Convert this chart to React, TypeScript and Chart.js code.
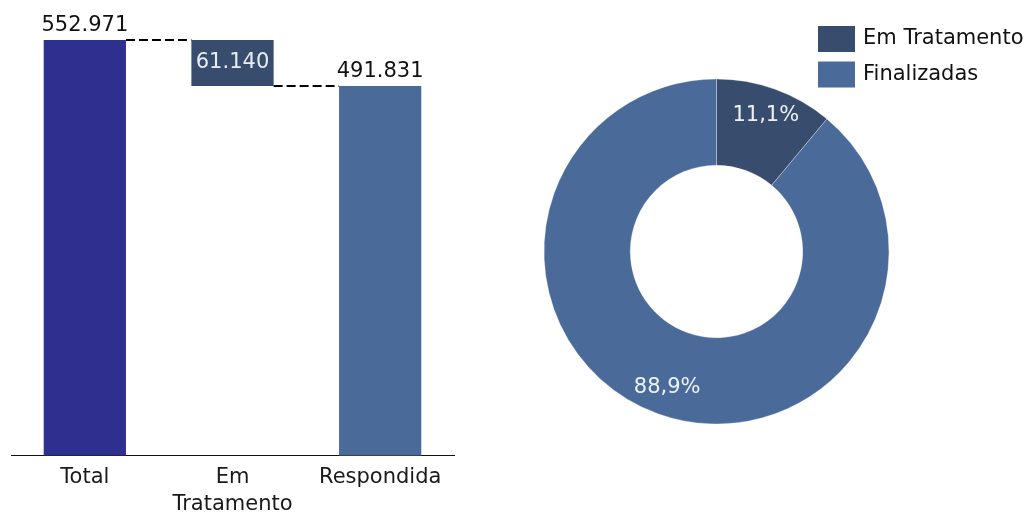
import React, { useEffect, useRef } from 'react';
import { Chart, registerables } from 'chart.js';

Chart.register(...registerables);

const categories = ['Total', 'Em Tratamento', 'Respondida'];
const tickLabels = [['Total'], ['Em', 'Tratamento'], ['Respondida']];
const totalValue = 552971;
const inTreatmentValue = 61140;
const answeredValue = 491831;
const barColors = ['#2f2f8f', '#384d6e', '#4a6a99'];

const donutLabels = ['Em Tratamento', 'Finalizadas'];
const donutValues = [61140, 491831];
const donutColors = ['#384c6d', '#4a6b9a'];

const FONT = "'DejaVu Sans', sans-serif";

const fmtThousands = (v: number) => String(v).replace(/\B(?=(\d{3})+(?!\d))/g, '.');

const waterfallPlugin = {
  id: 'waterfallLabels',
  afterDatasetsDraw(chart: any) {
    const ctx = chart.ctx;
    const meta = chart.getDatasetMeta(0);
    const els = meta.data;
    const values = [totalValue, inTreatmentValue, answeredValue];
    ctx.save();
    ctx.strokeStyle = '#000';
    ctx.lineWidth = 2;
    ctx.setLineDash([9, 4]);
    ctx.beginPath();
    const e0 = els[0], e1 = els[1], e2 = els[2];
    ctx.moveTo(e0.x + e0.width / 2, e0.y);
    ctx.lineTo(e1.x - e1.width / 2, e0.y);
    ctx.moveTo(e1.x + e1.width / 2, e1.base);
    ctx.lineTo(e2.x - e2.width / 2, e1.base);
    ctx.stroke();
    ctx.setLineDash([]);
    ctx.font = `21px ${FONT}`;
    ctx.textAlign = 'center';
    els.forEach((el: any, i: number) => {
      const txt = fmtThousands(values[i]);
      if (i === 1) {
        ctx.fillStyle = '#e8edf5';
        ctx.textBaseline = 'middle';
        ctx.fillText(txt, el.x, (el.y + el.base) / 2);
      } else {
        ctx.fillStyle = '#111';
        ctx.textBaseline = 'alphabetic';
        ctx.fillText(txt, el.x, el.y - 9);
      }
    });
    ctx.restore();
  },
};

const donutPlugin = {
  id: 'donutLabels',
  afterDatasetsDraw(chart: any) {
    const ctx = chart.ctx;
    const meta = chart.getDatasetMeta(0);
    const data = chart.data.datasets[0].data as number[];
    const sum = data.reduce((a, b) => a + b, 0);
    ctx.save();
    ctx.font = `21px ${FONT}`;
    ctx.textAlign = 'center';
    ctx.textBaseline = 'middle';
    ctx.fillStyle = '#eef2f8';
    meta.data.forEach((arc: any, i: number) => {
      const p = arc.getProps(['x', 'y', 'startAngle', 'endAngle', 'innerRadius', 'outerRadius']);
      const mid = (p.startAngle + p.endAngle) / 2;
      const r = p.innerRadius + (p.outerRadius - p.innerRadius) * 0.68;
      const pct = ((data[i] / sum) * 100).toFixed(1).replace('.', ',') + '%';
      ctx.fillText(pct, p.x + Math.cos(mid) * r, p.y + Math.sin(mid) * r);
    });
    const labels = chart.data.labels as string[];
    const colors = chart.data.datasets[0].backgroundColor as string[];
    labels.forEach((lab, i) => {
      const top = 26 + i * 35.5;
      ctx.fillStyle = colors[i];
      ctx.fillRect(348, top, 37, 26);
      ctx.fillStyle = '#111';
      ctx.textAlign = 'left';
      ctx.fillText(lab, 393, top + 13);
    });
    ctx.restore();
  },
};

export default function App() {
  const barRef = useRef<HTMLCanvasElement>(null);
  const donutRef = useRef<HTMLCanvasElement>(null);

  useEffect(() => {
    const floating = [
      [0, totalValue],
      [answeredValue, totalValue],
      [0, answeredValue],
    ];
    const bar = new Chart(barRef.current!, {
      type: 'bar',
      data: {
        labels: tickLabels as any,
        datasets: [
          {
            label: categories.join(','),
            data: floating as any,
            backgroundColor: barColors,
            borderWidth: 0,
            barPercentage: 1,
            categoryPercentage: 0.557,
          },
        ],
      },
      options: {
        responsive: false,
        animation: false,
        layout: { padding: { left: 11, right: 16, top: 40, bottom: 0 } },
        plugins: { legend: { display: false }, tooltip: { enabled: false } },
        scales: {
          x: {
            grid: { display: false, drawTicks: false },
            border: { display: true, color: '#111', width: 1 },
            ticks: {
              color: '#1a1a1a',
              font: { family: FONT, size: 21, lineHeight: 1.29 },
              padding: 8,
              maxRotation: 0,
              autoSkip: false,
            },
          },
          y: { display: false, min: 0, max: totalValue },
        },
      },
      plugins: [waterfallPlugin],
    });

    const donut = new Chart(donutRef.current!, {
      type: 'doughnut',
      data: {
        labels: donutLabels,
        datasets: [
          {
            data: donutValues,
            backgroundColor: donutColors,
            borderColor: 'rgba(255,255,255,0.3)',
            borderWidth: 1,
          },
        ],
      },
      options: {
        responsive: false,
        animation: false,
        radius: 172.5,
        cutout: '50%',
        layout: { padding: { left: 0, right: 68, top: 0, bottom: 14 } },
        plugins: { legend: { display: false }, tooltip: { enabled: false } },
      } as any,
      plugins: [donutPlugin],
    });

    return () => {
      bar.destroy();
      donut.destroy();
    };
  }, []);

  return (
    <div style={{ position: 'fixed', left: 0, top: 0, width: 1031, height: 517, background: '#fff', overflow: 'hidden' }}>
      <canvas ref={barRef} width={470} height={526} style={{ position: 'absolute', left: 0, top: 0 }} />
      <canvas ref={donutRef} width={561} height={517} style={{ position: 'absolute', left: 470, top: 0 }} />
    </div>
  );
}
